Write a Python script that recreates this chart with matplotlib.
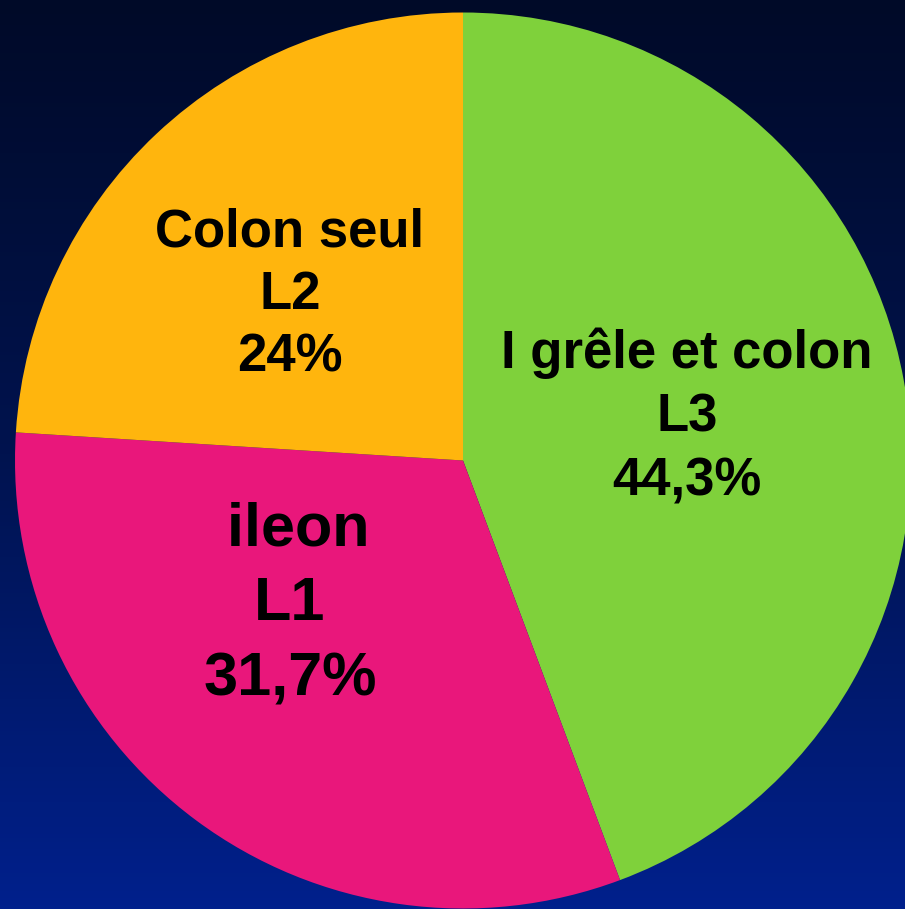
import numpy as np
import matplotlib
matplotlib.use("Agg")
import matplotlib.pyplot as plt
from matplotlib.colors import LinearSegmentedColormap

# Data
categories = ["I grêle et colon", " ileon", "Colon seul"]
locations = ["L3", "L1", "L2"]
values = [44.3, 31.7, 24.0]
pct_labels = ["44,3%", "31,7%", "24%"]
colors = ["#7fd13b", "#e9177b", "#ffb50d"]

W, H = 905, 909
fig = plt.figure(figsize=(W / 100, H / 100), dpi=100)

# Background gradient
bg = fig.add_axes([0, 0, 1, 1])
bg.axis("off")
grad = np.linspace(0, 1, 256).reshape(-1, 1)
cmap = LinearSegmentedColormap.from_list("bg", ["#000a28", "#00134f", "#00208c"])
bg.imshow(grad, aspect="auto", cmap=cmap, extent=[0, 1, 0, 1], origin="upper")
bg.set_xlim(0, 1)
bg.set_ylim(0, 1)

# Pie axes: center (463, 460.5) px, radius 448 px
cx, cy, r = 463, 460.5, 448
ax = fig.add_axes([(cx - r) / W, (H - cy - r) / H, 2 * r / W, 2 * r / H])
ax.axis("off")
wedges, _ = ax.pie(values, colors=colors, startangle=90, counterclock=False,
                   radius=1, wedgeprops=dict(linewidth=0))
for w in wedges:
    w.set_clip_on(False)
ax.set_xlim(-1, 1)
ax.set_ylim(-1, 1)

def to_data(px, py):
    return (px - cx) / r, (cy - py) / r

label_pos = [(687, 417), (290, 605), (290, 295)]
sizes = [38, 44, 38]
spacings = [1.34, 1.42, 1.33]
for cat, loc, pct, (px, py), fs, ls in zip(categories, locations, pct_labels,
                                          label_pos, sizes, spacings):
    x, y = to_data(px, py)
    ax.text(x, y, f"{cat}\n{loc}\n{pct}", ha="center", va="center",
            multialignment="center", fontsize=fs, fontweight="bold",
            family="Liberation Sans", color="black", linespacing=ls)

fig.savefig("out.png", dpi=100)
